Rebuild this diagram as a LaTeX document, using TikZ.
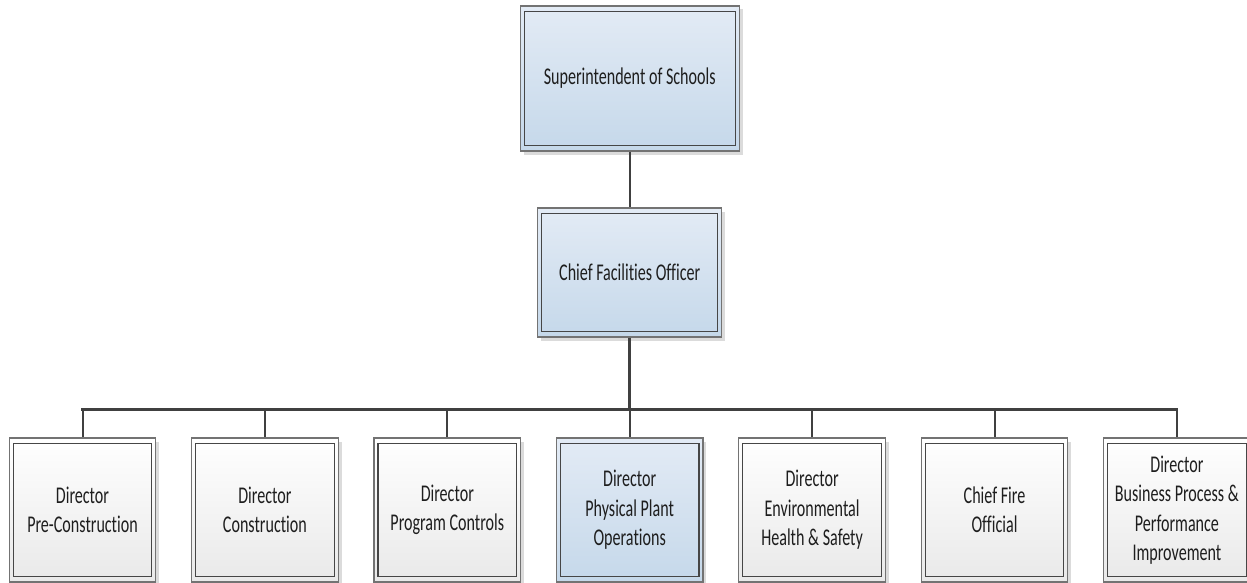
\documentclass[tikz,border=0pt]{standalone}
\usepackage{fontspec}
\usepackage{xcolor}
\usepackage{tikz}
\usetikzlibrary{shadows}
\newfontfamily\boxfont{Carlito}[FakeStretch=0.67, Ligatures=NoCommon]

\definecolor{bluetop}{RGB}{227,235,245}
\definecolor{bluebot}{RGB}{197,216,234}
\definecolor{graybot}{RGB}{233,233,233}
\definecolor{outerline}{RGB}{115,115,115}
\definecolor{innerline}{RGB}{70,70,70}
\definecolor{linkcol}{RGB}{64,64,64}
\definecolor{textgray}{RGB}{30,30,30}

\tikzset{
  unit/.style={draw=outerline, line width=1.2pt, inner sep=0pt, align=center,
    minimum width=146.5pt, minimum height=144pt,
    font=\boxfont\fontsize{24}{29.5}\selectfont, text=textgray,
    drop shadow={shadow xshift=3.5pt, shadow yshift=-3.5pt, fill=black!14, opacity=1},
    path picture={\draw[innerline, line width=1.2pt]
      ([shift={(4pt,-5.5pt)}]path picture bounding box.north west) rectangle
      ([shift={(-4pt,5.5pt)}]path picture bounding box.south east);}},
  grayunit/.style={unit, top color=white, bottom color=graybot},
  blueunit/.style={unit, top color=bluetop, bottom color=bluebot},
  thinlink/.style={draw=linkcol, line width=2pt},
  buslink/.style={draw=linkcol, line width=3pt}
}

\begin{document}
\begin{tikzpicture}[x=1pt,y=1pt]
\useasboundingbox (0,0) rectangle (1247,-583);
% top of the chart
\node [blueunit, minimum width=219pt, minimum height=145pt] (super) at (629.7,-78.5) {Superintendent of Schools};
\node [blueunit, minimum width=184pt, minimum height=129pt] (chief) at (629.7,-272.5) {Chief Facilities Officer};
\coordinate (busmid) at (629.7,-409);
% directors
\node [grayunit] (d1) at (82.5,-510) {Director\\Pre-Construction};
\node [grayunit] (d2) at (264.9,-510) {Director\\Construction};
\node [grayunit] (d3) at (447.3,-510) {Director\\Program Controls};
\node [blueunit] (d4) at (629.7,-510) {Director\\Physical Plant\\Operations};
\node [grayunit] (d5) at (812.1,-510) {Director\\Environmental\\Health \& Safety};
\node [grayunit] (d6) at (994.5,-510) {Chief Fire\\Official};
\node [grayunit] (d7) at (1176.9,-510) {Director\\Business Process \&\\Performance\\Improvement};
% links
\draw [thinlink] (super) -- (chief);
\draw [buslink] (chief) -- (busmid);
\draw [buslink, line cap=rect] (d1.north |- busmid) -- (d7.north |- busmid);
\foreach \i in {1,...,7}
  \draw [thinlink] (d\i.north |- busmid) -- (d\i);
\end{tikzpicture}
\end{document}
